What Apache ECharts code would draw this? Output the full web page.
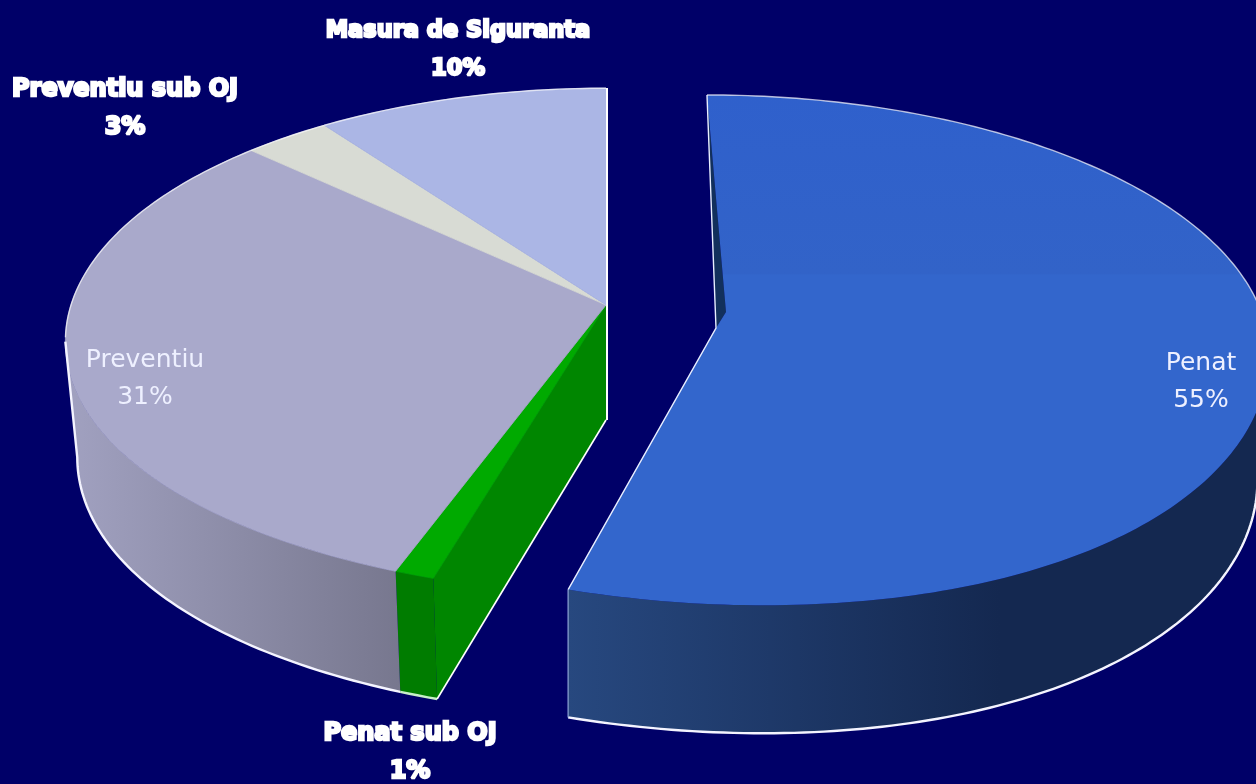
<!DOCTYPE html>
<html>
<head>
<meta charset="utf-8">
<title>Penat / Preventiu</title>
<script src="https://cdn.jsdelivr.net/npm/echarts@6/dist/echarts.min.js"></script>
<style>
  html, body { margin: 0; height: 100%; background: #000068; overflow: hidden; }
  #pie3d { width: 1256px; height: 784px; }
</style>
</head>
<body>
<div id="pie3d"></div>
<script>
// values, clockwise from the back of the pie
const categories = ["Penat", "Penat sub OJ", "Preventiu", "Preventiu sub OJ", "Masura de Siguranta"];
const percents = [55, 1, 31, 3, 10];
const pieceOf = [0, 1, 1, 1, 1];

const topColors = ["#3366cc", "#00aa00", "#a9a9cb", "#d8dbd4", "#abb6e5"];
const wallColors = [["#27487f", "#142850"], ["#007c00", "#007c00"], ["#a0a0bf", "#77778e"], ["#999", "#999"], ["#999", "#999"]];
const wallRange = [[568, 1000], [403, 430], [75, 403], [0, 1], [0, 1]];

// the two halves have slightly different perspective in the original, so each has its own ellipse
const pieces = [
  { cx: 716, cy: 320, a: 548, b: 251.6, k: 0.118, h: 125, hk: 3, squeezeLeft: 1, squeezeRight: 0.98, shearBack: 0.04, shearFront: 43, shearPow: 2 },
  { cx: 606, cy: 305, a: 535, b: 248, k: 0.144, h: 115, hk: 6, squeezeLeft: 0.978, squeezeRight: 0.978, shearBack: 0, shearFront: 18, shearPow: 4 }
];

const labelSpots = [[1201, 382], [410, 753], [145, 379], [125, 109], [458, 50]];
const labelBold = [false, true, false, true, true];
const labelSizes = [25, 24, 25, 24, 22.5];

function project(piece, theta, lower) {
  const X = Math.sin(theta);
  const Y = -Math.cos(theta);
  const w = 1 - piece.k * Y;
  let x = piece.a * X / w;
  let y = piece.b * Y / w;
  x += y < 0 ? y * piece.shearBack : piece.shearFront * Math.pow(y / 270, piece.shearPow);
  if (lower) {
    x *= x < 0 ? piece.squeezeLeft : piece.squeezeRight;
    y += piece.h + piece.hk * Y;
  }
  return [piece.cx + x, piece.cy + y];
}

function hub(piece, lower) {
  return [piece.cx, piece.cy + (lower ? piece.h : 0)];
}

function angles(from, to) {
  const list = [];
  const steps = Math.max(4, Math.ceil(Math.abs(to - from) * 60));
  for (let i = 0; i <= steps; i++) {
    list.push(from + (to - from) * i / steps);
  }
  return list;
}

function renderSlice(params, api) {
  const i = params.dataIndex;
  const total = percents.reduce((s, v) => s + v, 0);
  const before = percents.slice(0, i).reduce((s, v) => s + v, 0);
  const from = before / total * Math.PI * 2;
  const to = from + api.value(0) / total * Math.PI * 2;
  const piece = pieces[pieceOf[i]];
  const children = [];
  const isFront = (t) => -Math.cos(t) >= piece.k;
  const topThetas = angles(from, to);
  const top = topThetas.map((t) => project(piece, t, false));

  // outer wall, only the part that faces the viewer
  const wallThetas = topThetas.filter(isFront);
  if (wallThetas.length > 1) {
    const up = wallThetas.map((t) => project(piece, t, false));
    const low = wallThetas.map((t) => project(piece, t, true));
    children.push({
      type: "polygon", z2: 1,
      shape: { points: up.concat(low.slice().reverse()) },
      style: {
        fill: new echarts.graphic.LinearGradient(wallRange[i][0], 0, wallRange[i][1], 0, [
          { offset: 0, color: wallColors[i][0] },
          { offset: 1, color: wallColors[i][1] }
        ], true)
      }
    });
    const rim = low.slice();
    if (i === 2) {
      rim.push(up[up.length - 1]);
    }
    children.push({
      type: "polyline", z2: 6,
      shape: { points: rim },
      style: { fill: null, stroke: i === 1 ? "#c8f0c8" : "#f4f4ff", lineWidth: 2.4 }
    });
  }

  // cut faces seen through the gap
  if (i === 1) {
    const rim = project(piece, from, false);
    const rimLow = project(piece, from, true);
    const hubLow = hub(piece, true);
    children.push({
      type: "polygon", z2: 2,
      shape: { points: [hub(piece, false), hubLow, rimLow, rim] },
      style: { fill: "#008600" }
    });
    children.push({
      type: "polyline", z2: 6,
      shape: { points: [hubLow, rimLow] },
      style: { fill: null, stroke: "#fff", lineWidth: 1.6 }
    });
    children.push({
      type: "line", z2: 6,
      shape: { x1: piece.cx + 1, y1: piece.cy - 217, x2: piece.cx + 1, y2: hubLow[1] },
      style: { stroke: "#fff", lineWidth: 2 }
    });
  }

  if (i === 0) {
    // the big slice has a small fold at its hub, with a dark inner wall showing
    const c = hub(piece, false);
    const fold = [c[0] + 10, c[1] - 8];
    const foot = [c[0], c[1] + 8];
    const end = top[top.length - 1];
    children.push({
      type: "polygon", z2: 2,
      shape: { points: [top[0], fold, foot] },
      style: { fill: "#12305c" }
    });
    children.push({
      type: "polyline", z2: 6,
      shape: { points: [end, foot, top[0]] },
      style: { fill: null, stroke: "#e8eeff", lineWidth: 1.4 }
    });
    children.push({
      type: "line", z2: 6,
      shape: { x1: end[0], y1: end[1], x2: end[0], y2: project(piece, to, true)[1] },
      style: { stroke: "#8ea6d6", lineWidth: 1.2 }
    });
    children.push({
      type: "polygon", z2: 3,
      shape: { points: top.concat([foot, fold]) },
      style: {
        fill: new echarts.graphic.LinearGradient(0, 95, 0, 605, [
          { offset: 0, color: "#2f60cc" },
          { offset: 0.35, color: "#3263c8" },
          { offset: 0.353, color: "#3366cc" },
          { offset: 1, color: "#3366cc" }
        ], true)
      }
    });
  } else {
    children.push({
      type: "polygon", z2: 3,
      shape: { points: top.concat([hub(piece, false)]) },
      style: { fill: topColors[i], stroke: topColors[i], lineWidth: 0.8 }
    });
  }

  // pale rim along the back of the top face
  const backRim = topThetas.filter((t) => !isFront(t)).map((t) => project(piece, t, false));
  if (backRim.length) {
    children.push({
      type: "polyline", z2: 6,
      shape: { points: backRim },
      style: { fill: null, stroke: "rgba(255,255,255,0.7)", lineWidth: 1.4 }
    });
  }

  const bold = labelBold[i];
  children.push({
    type: "text", z2: 10,
    style: {
      text: categories[i] + "\n" + api.value(0) + "%",
      x: labelSpots[i][0],
      y: labelSpots[i][1],
      align: "center",
      verticalAlign: "middle",
      fill: bold ? "#fff" : "#eef0ff",
      stroke: bold ? "#fff" : null,
      lineWidth: bold ? 2.4 : 0,
      lineHeight: bold ? 38 : 37,
      font: (bold ? "bold " : "") + labelSizes[i] + "px 'DejaVu Sans', sans-serif"
    }
  });
  return { type: "group", children: children };
}

const chart = echarts.init(document.getElementById("pie3d"));
chart.setOption({
  backgroundColor: "#000068",
  animation: false,
  tooltip: { show: false },
  series: [
    {
      type: "custom",
      coordinateSystem: "none",
      renderItem: renderSlice,
      data: percents.map((v, i) => ({ name: categories[i], value: [v] }))
    }
  ]
});
</script>
</body>
</html>
